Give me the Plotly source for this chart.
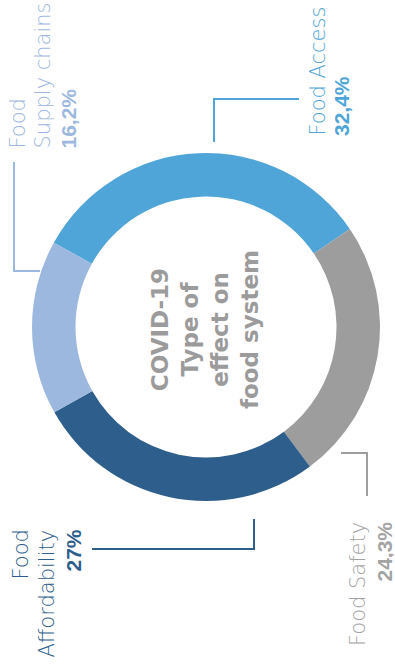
import plotly.graph_objects as go

# ---- data ----
categories = ["Food Access", "Food Safety", "Food Affordability", "Food Supply chains"]
values = [32.4, 24.3, 27.0, 16.2]
value_labels = ["32,4%", "24,3%", "27%", "16,2%"]
colors = ["#4FA5D8", "#9D9D9D", "#2E5E8C", "#9CB8DF"]
text_colors = ["#4FA5D8", "#A3A3A3", "#2E5E8C", "#9DB8DE"]
center_title = "COVID-19<br>Type of<br>effect on<br>food system"

W, H = 395, 672


def px(x):
    return x / W


def py(y):
    return 1 - y / H


fig = go.Figure()
fig.add_trace(go.Pie(
    labels=categories,
    values=values,
    marker=dict(colors=colors, line=dict(width=0)),
    hole=0.75,
    sort=False,
    direction="clockwise",
    rotation=-61,
    textinfo="none",
    hoverinfo="label+value",
    showlegend=False,
    domain=dict(x=[px(32), px(380)], y=[py(501), py(153)]),
))

REG = dict(family="DejaVu Sans", size=21, weight=300)
BOLD = dict(family="Liberation Sans", size=21, weight="bold")

annots = []


def label(text, xc, y, yanchor, color, font, box=None):
    f = dict(font)
    f["color"] = color
    a = dict(
        text=text, x=px(xc), y=py(y), xref="paper", yref="paper",
        xanchor="center", yanchor=yanchor, textangle=-90,
        showarrow=False, font=f, borderpad=0,
    )
    if box:
        a["height"] = box
    annots.append(a)


# Food Access
label(categories[0], 317, 137, "bottom", text_colors[0], REG)
label(value_labels[0], 341, 137, "bottom", text_colors[0], BOLD)
# Food Safety
label(categories[1], 358, 521, "top", text_colors[1], REG)
label(value_labels[1], 384.5, 521, "top", text_colors[1], BOLD, box=18)
# Food Affordability
label("Food", 20.5, 529, "top", text_colors[2], REG)
label("Affordability", 46.5, 529, "top", text_colors[2], REG)
label(value_labels[2], 72.5, 529, "top", text_colors[2], BOLD)
# Food Supply chains
label("Food", 17.5, 150, "bottom", text_colors[3], REG)
label("Supply chains", 42.5, 150, "bottom", text_colors[3], REG)
label(value_labels[3], 67.5, 150, "bottom", text_colors[3], BOLD)

# center text
annots.append(dict(
    text="<b>" + center_title + "</b>", x=px(205), y=py(330), xref="paper", yref="paper",
    xanchor="center", yanchor="middle", textangle=-90, showarrow=False,
    font=dict(family="DejaVu Sans", size=23, color="#9B9B9B"), align="center",
))


def path(points):
    return "M " + " L ".join(f"{px(a)},{py(b)}" for a, b in points)


shapes = [
    dict(type="path", path=path([(214, 142), (214, 99), (299, 99)]),
         xref="paper", yref="paper", line=dict(color=colors[0], width=2)),
    dict(type="path", path=path([(341, 453), (367, 453), (367, 496)]),
         xref="paper", yref="paper", line=dict(color=colors[1], width=2)),
    dict(type="path", path=path([(92, 549), (254, 549), (254, 519)]),
         xref="paper", yref="paper", line=dict(color=colors[2], width=2)),
    dict(type="path", path=path([(14, 162), (14, 271), (40, 271)]),
         xref="paper", yref="paper", line=dict(color=colors[3], width=2)),
]

fig.update_layout(
    width=W, height=H,
    margin=dict(l=0, r=0, t=0, b=0),
    paper_bgcolor="white", plot_bgcolor="white",
    annotations=annots, shapes=shapes,
)

fig.write_html(
    "out.html",
    config={"displayModeBar": False},
    post_script="document.body.style.margin='0';document.body.style.overflow='hidden';",
)
